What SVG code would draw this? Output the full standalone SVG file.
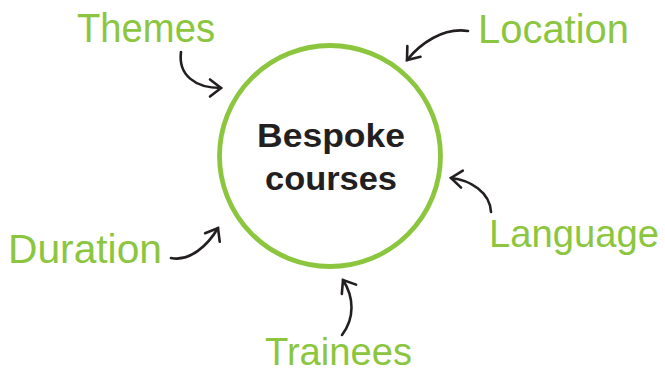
<svg xmlns="http://www.w3.org/2000/svg" width="665" height="373" viewBox="0 0 665 373">
<style>
.lbl{font-family:"Liberation Sans",Arial,sans-serif;font-size:40px;fill:#8cc63f}
.ttl{font-family:"Liberation Sans",Arial,sans-serif;font-size:34px;font-weight:bold;fill:#231f20}
.arr{fill:none;stroke:#231f20;stroke-width:2.6;stroke-linecap:round;marker-end:url(#chev)}
</style>
<defs>
<marker id="chev" markerUnits="userSpaceOnUse" markerWidth="30" markerHeight="30" refX="0" refY="0" orient="auto" overflow="visible">
<path d="M-11,-8.5 L0,0 L-11,8.5" fill="none" stroke="#231f20" stroke-width="2.6" stroke-linecap="round" stroke-linejoin="miter"/>
</marker>
</defs>
<rect width="665" height="373" fill="#fff"/>
<g id="center">
<circle cx="330" cy="156" r="110.5" fill="none" stroke="#8cc63f" stroke-width="4.8"/>
<text class="ttl" x="331" y="146.5" text-anchor="middle" textLength="148" lengthAdjust="spacingAndGlyphs">Bespoke</text>
<text class="ttl" x="331" y="190" text-anchor="middle" textLength="132" lengthAdjust="spacingAndGlyphs">courses</text>
</g>
<g id="themes"><text class="lbl" x="77" y="42.3" textLength="138" lengthAdjust="spacingAndGlyphs">Themes</text></g>
<g id="location"><text class="lbl" x="478" y="42.7" textLength="151" lengthAdjust="spacingAndGlyphs">Location</text></g>
<g id="duration"><text class="lbl" x="8" y="262.7" textLength="154" lengthAdjust="spacingAndGlyphs">Duration</text></g>
<g id="language"><text class="lbl" x="489" y="247.3" style="font-size:38.5px" textLength="170" lengthAdjust="spacingAndGlyphs">Language</text></g>
<g id="trainees"><text class="lbl" x="265" y="364.5" style="font-size:38px" textLength="147" lengthAdjust="spacingAndGlyphs">Trainees</text></g>
<g id="connectors">
<path class="arr" d="M181,52 C178,75 195,88 221,88"/>
<path class="arr" d="M468,31 C443,27 420,44 407,60"/>
<path class="arr" d="M171,258 C190,262 208,245 218,228"/>
<path class="arr" d="M491,212 C490,192 470,180 451,178"/>
<path class="arr" d="M342,335 C355,318 354,297 343,280"/>
</g>
</svg>
